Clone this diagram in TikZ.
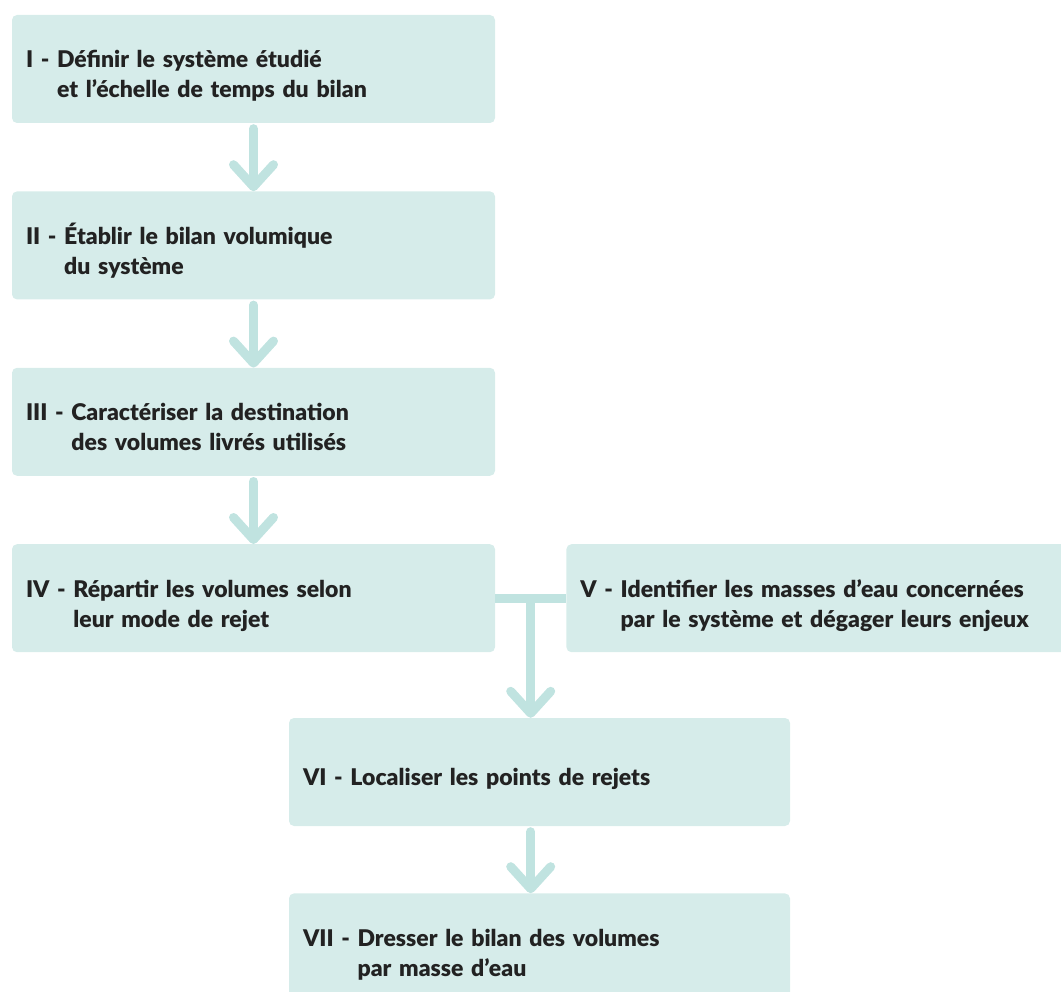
\documentclass[tikz,border=0pt]{standalone}
\usepackage{fontspec}
\setmainfont{Lato}[BoldFont={Lato Black}]
\usetikzlibrary{positioning, calc, arrows.meta}

\definecolor{boxfill}{HTML}{D6ECEA}
\definecolor{flowcol}{HTML}{C0E3E0}
\definecolor{textcol}{HTML}{222222}

\newcommand{\steptext}[3]{\raisebox{-8pt}[\height][\depth]{\begin{tabular}{@{}l@{\ }l}#1 -& #2\\ & #3\end{tabular}}}

\tikzset{
	stage/.style={rectangle, rounded corners=5pt, fill=boxfill, minimum height=108pt, inner xsep=14pt, text width=#1, align=left, text=textcol, font=\fontsize{23}{30}\selectfont\bfseries},
	flow/.style={draw=flowcol, line width=9pt, line cap=round, -{Straight Barb[length=22pt, width=40pt, round]}},
	link/.style={draw=flowcol, line width=9pt}
}

\begin{document}
\begin{tikzpicture}[x=1pt, y=1pt]
		\useasboundingbox (0, 0) rectangle (1061, -992);

		% stages
		\node[stage=455pt] (I) at (253.5, -69) {\steptext{I}{Définir le système étudié}{et l’échelle de temps du bilan}};
		\node[stage=455pt, below=68pt of I] (II) {\steptext{II}{Établir le bilan volumique}{du système}};
		\node[stage=455pt, below=68pt of II] (III) {\steptext{III}{Caractériser la destination}{des volumes livrés utilisés}};
		\node[stage=455pt, below=68pt of III] (IV) {\steptext{IV}{Répartir les volumes selon}{leur mode de rejet}};
		\node[stage=473pt, right=71pt of IV] (V) {\steptext{V}{Identifier les masses d’eau concernées}{par le système et dégager leurs enjeux}};
		\node[stage=473pt] (VI) at (539.5, -772) {\raisebox{-7pt}[\height][\depth]{VI - Localiser les points de rejets}};
		\node[stage=473pt, below=67pt of VI] (VII) {\steptext{VII}{Dresser le bilan des volumes}{par masse d’eau}};

		% arrows
		\draw[flow, shorten <=5.5pt] (I) -- (II);
		\draw[flow, shorten <=5.5pt] (II) -- (III);
		\draw[flow, shorten <=5.5pt] (III) -- (IV);

		% junction between IV and V
		\draw[link] (IV.east) -- (V.west);
		\coordinate (j) at ($(IV.east)!0.5!(V.west)$);
		\draw[flow, line cap=butt] (j) -- (j |- VI.north);
		\draw[flow, shorten <=5.5pt] (j |- VI.south) -- (j |- VII.north);
\end{tikzpicture}
\end{document}
